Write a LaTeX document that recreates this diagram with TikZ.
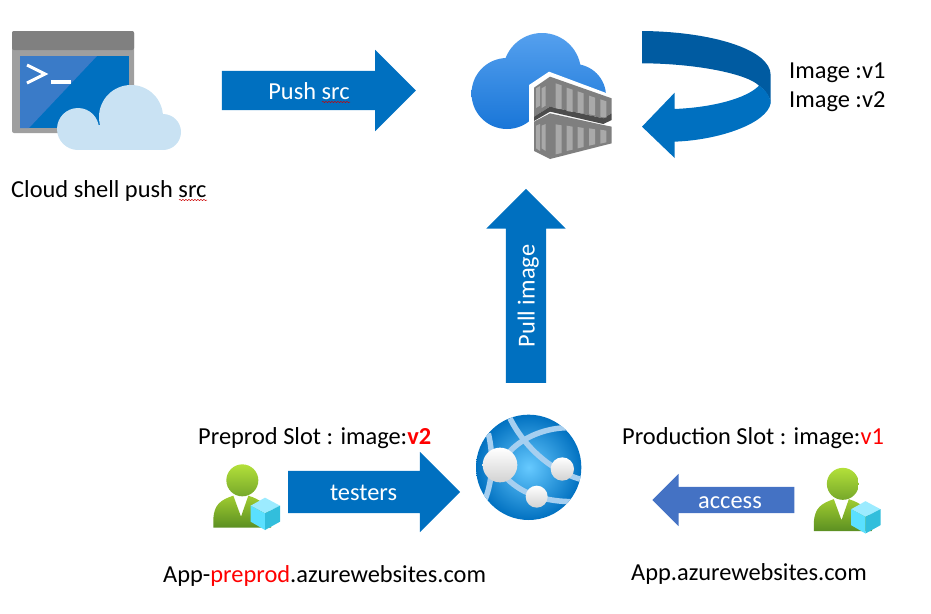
\documentclass[tikz,border=0pt]{standalone}
\usepackage{fontspec}
\setmainfont{Carlito}
\usetikzlibrary{shapes.arrows,decorations.pathmorphing}
\definecolor{arrowblue}{HTML}{0070C0}
\definecolor{accessblue}{HTML}{4472C4}
\definecolor{darkblue}{HTML}{005BA1}
\definecolor{cloudpale}{HTML}{C9E2F3}
\definecolor{cloudtop}{HTML}{55A0EE}
\definecolor{cloudbottom}{HTML}{1976D8}
\definecolor{crate}{HTML}{7F7F7F}
\definecolor{slat}{HTML}{A9A9A9}
\definecolor{screenlight}{HTML}{3A7BC8}
\definecolor{bandblue}{HTML}{A6CFF0}
\definecolor{headtop}{HTML}{B3E03A}
\definecolor{headbottom}{HTML}{76A82A}
\definecolor{bodytop}{HTML}{A0CC30}
\definecolor{bodybottom}{HTML}{5B8F22}
\definecolor{cubetop}{HTML}{9CEBFF}
\definecolor{cubeleft}{HTML}{5AE0FF}
\definecolor{cuberight}{HTML}{32BEDC}
\tikzset{
	label text/.style = {anchor = base west, inner sep = 0, font = \fontsize{24.4}{29}\selectfont},
	bigarrow/.style = {single arrow, single arrow head indent = 0, shape border uses incircle = false,
		inner xsep = 0, text height = 18pt, text depth = 1pt, text = white, anchor = center,
		font = \fontsize{24.4}{29}\selectfont},
	squiggle/.style = {red!80!black, line width = .5pt, decorate, decoration = {snake, amplitude = .6pt, segment length = 3pt}},
	slats/.style = {fill = slat},
	usericon/.pic = {
		\begin{scope}[scale = 1/3]
			\shade [top color = bodytop, bottom color = bodybottom]
				(25,218) -- (25,190) .. controls (28,150) and (45,135) .. (85,122) -- (108,185) -- (130,122)
				.. controls (165,133) and (190,150) .. (198,190) -- (198,218) -- cycle;
			\shade [top color = headtop, bottom color = headbottom] (112,76) circle [radius = 48];
			\fill [cubetop] (180,128) -- (225,152) -- (180,175) -- (137,152) -- cycle;
			\fill [cubeleft] (137,152) -- (180,175) -- (180,225) -- (137,200) -- cycle;
			\fill [cuberight] (225,152) -- (180,175) -- (180,225) -- (225,200) -- cycle;
		\end{scope}
	}
}
\begin{document}
\begin{tikzpicture}[x = 1pt, y = -1pt]
	\useasboundingbox (0,0) rectangle (931,613);
	% cloud shell icon
	\fill [gray!75, rounded corners = 2pt] (12,31) rectangle (134,133);
	\fill [gray, rounded corners = 2pt] (12,31) rectangle (134,50);
	\fill [arrowblue] (20,56) rectangle (129,128);
	\fill [screenlight] (20,56) -- (97,56) -- (29,128) -- (20,128) -- cycle;
	\draw [white, line width = 3pt] (27,65) -- (45,74) -- (27,83);
	\draw [white, line width = 3.2pt] (51,82) -- (71,82);
	\fill [cloudpale] (78,129) circle [radius = 21] (131,117) circle [radius = 32] (163,132) circle [radius = 18];
	\fill [cloudpale] (78,125) rectangle (163,150);
	% registry icon
	\shade [top color = cloudtop, bottom color = cloudbottom]
		(507,93.5) circle [radius = 35.5] (542,72) circle [radius = 39] (574,96) circle [radius = 32];
	\begin{scope}[shift = {(525,65)}, scale = 1/3]
		\fill [white] (12,60) -- (72,20) -- (265,92) -- (265,300) -- (12,300) -- cycle;
		\fill [crate] (27,68) -- (75,35) -- (260,100) -- (260,145) -- (235,160) -- (75,125) -- (27,155) -- cycle;
		\fill [black!70] (27,155) -- (75,125) -- (235,160) -- (260,145) -- (260,165) -- (235,177) -- (75,140) -- (27,168) -- cycle;
		\fill [crate] (27,170) -- (75,145) -- (235,180) -- (260,185) -- (260,235) -- (75,282) -- (27,258) -- cycle;
		\foreach \xa/\ya/\yb in {92/55/130, 125/68/138, 158/79/143, 192/92/148, 226/103/155} {
			\fill [slats] (\xa,\ya) -- (\xa+18,\ya+6) -- (\xa+18,\yb+3) -- (\xa,\yb) -- cycle;
		}
		\foreach \xa/\ya/\yb in {92/178/268, 125/182/258, 158/186/250, 192/190/242, 226/194/236} {
			\fill [slats] (\xa,\ya) -- (\xa+18,\ya+3) -- (\xa+18,\yb-4) -- (\xa,\yb) -- cycle;
		}
		\foreach \xa in {33,50} {
			\fill [slats] (\xa,70) -- (\xa+12,63) -- (\xa+12,122) -- (\xa,129) -- cycle;
			\fill [slats] (\xa,182) -- (\xa+12,177) -- (\xa+12,258) -- (\xa,250) -- cycle;
		}
	\end{scope}
	% loop arrow
	\begin{scope}[shift = {(460,20)}, scale = 1/3]
		\fill [darkblue] (546,33) .. controls (760,35) and (932,90) .. (932,165) -- (932,250)
			.. controls (930,230) and (915,210) .. (897,197) .. controls (860,160) and (700,130) .. (546,130) -- cycle;
		\fill [arrowblue] (644,267) .. controls (760,262) and (860,235) .. (897,197)
			.. controls (925,215) and (932,240) .. (932,250) .. controls (920,310) and (780,360) .. (644,365)
			-- (644,414) -- (546,320) -- (644,218) -- cycle;
	\end{scope}
	% web app icon
	\begin{scope}[shift = {(470,405)}, scale = 1/3]
		\begin{scope}
			\clip (176,187) circle [radius = 158];
			\shade [inner color = blue!35!cyan!60!white, outer color = arrowblue] (176,187) circle [radius = 160];
			\draw [bandblue, line width = 5.5pt] (120,40) .. controls (160,120) and (240,200) .. (340,225);
			\draw [bandblue, line width = 5.5pt] (55,85) .. controls (70,150) and (70,220) .. (45,285);
			\draw [bandblue, line width = 5.5pt] (110,150) .. controls (150,100) and (220,70) .. (290,68);
			\draw [bandblue, line width = 5.5pt] (110,220) .. controls (160,270) and (230,290) .. (310,290);
		\end{scope}
		\shade [top color = white, bottom color = gray!35] (90,180) circle [radius = 52];
		\shade [top color = white, bottom color = gray!35] (277,192) circle [radius = 35];
		\shade [top color = white, bottom color = gray!35] (200,275) circle [radius = 33];
	\end{scope}
	% user icons
	\pic (preproduser) at (205,455) {usericon};
	\pic (produser) at (805.5,458.5) {usericon};
	% block arrows
	\node (pushsrc) [bigarrow, fill = arrowblue, inner ysep = 10pt, minimum height = 194pt, minimum width = 81pt, single arrow head extend = 21pt] at (309,90.5) {Push src};
	\node (pullimage) [bigarrow, fill = arrowblue, inner ysep = 10.5pt, minimum height = 194pt, minimum width = 79pt, single arrow head extend = 19.5pt, rotate = 90] at (526,296) {Pull image};
	\node (testers) [bigarrow, fill = arrowblue, inner ysep = 11.5pt, minimum height = 172pt, minimum width = 80pt, single arrow head extend = 19pt] at (363.5,492) {testers};
	\node (access) [bigarrow, fill = accessblue, inner ysep = 3.5pt, minimum height = 142pt, minimum width = 52pt, single arrow head extend = 13pt, shape border rotate = 180] at (730,500) {access};
	% texts
	\node (shelltext) [label text] at (11,197) {Cloud shell push src};
	\node (imagea) [label text] at (789,78) {Image :v1};
	\node (imageb) [label text] at (789,107) {Image :v2};
	\node (preprodslot) [label text] at (198,444) {Preprod Slot : image:\textcolor{red}{\textbf{v2}}};
	\node (prodslot) [label text] at (622,444) {Production Slot : image:\textcolor{red}{v1}};
	\node (preprodurl) [label text] at (163,582) {App-\textcolor{red}{preprod}.azurewebsites.com};
	\node (produrl) [label text] at (631,580) {App.azurewebsites.com};
	% spell check marks
	\draw [squiggle] (179,200) -- (207,200);
	\draw [squiggle] (322,102) -- (350,102);
\end{tikzpicture}
\end{document}
